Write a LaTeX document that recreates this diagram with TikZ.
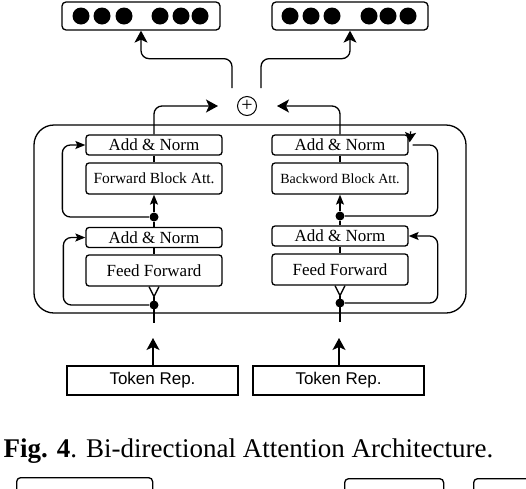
\documentclass[tikz,border=0pt]{standalone}
\usepackage{fontspec}
\setmainfont{Liberation Serif}
\newfontfamily\sansf{Liberation Sans}
\usetikzlibrary{arrows.meta,calc}
\begin{document}
\begin{tikzpicture}[x=1pt,y=-1pt, line width=1.3pt,
 blk/.style={draw, rounded corners=3pt, minimum width=136pt, inner sep=0pt, font=\fontsize{17}{17}\selectfont},
 an/.style={blk, minimum height=20pt},
 tall/.style={blk, minimum height=31pt},
 tok/.style={draw, minimum width=171pt, minimum height=29pt, inner sep=0pt, font=\sansf\fontsize{17}{17}\selectfont},
 big/.style={-{Stealth[length=12pt,width=13pt,inset=3pt]}},
 small/.style={-{Stealth[length=10pt,width=8pt,inset=2pt]}},
 dotn/.style={circle, fill, inner sep=0pt, minimum size=9pt},
 outb/.style={draw, rounded corners=4pt, minimum height=28pt, inner sep=0pt},
 bd/.style={circle, fill, inner sep=0pt, minimum size=17pt},
 part/.style={draw, rounded corners=4pt, minimum height=40pt, inner sep=0pt, anchor=north west},
]
\useasboundingbox (0,0) rectangle (526,488);

% output boxes
\node[outb, minimum width=158pt] (out1) at (141,16) {};
\node[outb, minimum width=156pt] (out2) at (350,16) {};
\foreach \x [count=\i] in {81,102,124,160,181,200} \node[bd] (l\i) at (\x,16) {};
\foreach \x [count=\i] in {290,311,332,369,388,408} \node[bd] (r\i) at (\x,16) {};

% plus
\node[circle, draw, minimum size=19pt, inner sep=0pt, line width=1pt, font=\fontsize{20}{20}\selectfont] (plus) at (247,106) {\raisebox{1pt}{+}};

% encoder container
\node[draw, rounded corners=20pt, minimum width=432pt, minimum height=188pt, inner sep=0pt] (enc) at (250,219) {};

% left column
\node[an] (an1) at (154,145) {Add \& Norm};
\node[tall] (fb) at (154,178.5) {\fontsize{15.5}{15.5}\selectfont Forward Block Att.};
\node[an] (an2) at (154,237.5) {Add \& Norm};
\node[tall] (ff1) at (154,270.5) {Feed Forward};
\node[dotn] (d1) at (154,217) {};
\node[dotn] (d2) at (154,305) {};

% right column
\node[an] (an3) at (340,145) {Add \& Norm};
\node[tall] (bb) at (340,178.5) {\fontsize{14}{14}\selectfont Backword Block Att.};
\node[an] (an4) at (340,236) {Add \& Norm};
\node[tall] (ff2) at (340,269.5) {Feed Forward};
\node[dotn] (d3) at (340,216) {};
\node[dotn] (d4) at (340,303) {};

% token reps
\node[tok] (t1) at (152.5,380.5) {Token Rep.};
\node[tok] (t2) at (338.5,380.5) {Token Rep.};

\coordinate (b1) at (154,323);
\coordinate (b2) at (340,322);
\coordinate (a1) at (153,338);
\coordinate (a2) at (339,338);
\coordinate (o1s) at (232,88);
\coordinate (o2s) at (261,88);

% column connectors
\draw (an1.south) -- (fb.north);
\draw[small] (d1) -- (fb.south);
\draw (d1) -- (an2.north);
\draw (an2.south) -- (ff1.north);
\draw ($(ff1.south)+(-5,0)$) -- ($(ff1.south)+(0,10)$) -- ($(ff1.south)+(5,0)$);
\draw ($(ff1.south)+(0,10)$) -- (d2.center) -- (b1);

\draw (an3.south) -- (bb.north);
\draw[small] (d3) -- (bb.south);
\draw (d3) -- (an4.north);
\draw (an4.south) -- (ff2.north);
\draw ($(ff2.south)+(-5,0)$) -- ($(ff2.south)+(0,10)$) -- ($(ff2.south)+(5,0)$);
\draw ($(ff2.south)+(0,10)$) -- (d4.center) -- (b2);

% residual loops
\draw[small, rounded corners=8pt] (d1) -| ($(an1.west)+(-23,0)$) -- (an1.west);
\draw[small, rounded corners=8pt] (d2) -| ($(an2.west)+(-22,0)$) -- (an2.west);
\draw[rounded corners=8pt] (d3) -| ($(an3.east)+(29,0)$) -- ($(an3.east)+(4,0)$);
\draw[-{Stealth[length=10pt,width=11pt,inset=2pt]}] ($(an3.north east)+(2,-3)$) -- ($(an3.north east)+(1,8)$);
\draw[small, rounded corners=8pt] (d4) -| ($(an4.east)+(29,0)$) -- (an4.east);

% to plus
\draw[big, rounded corners=8pt] (an1.north) |- ($(plus.west)+(-19,0)$);
\draw[big, rounded corners=8pt] (an3.north) |- ($(plus.east)+(20,0)$);

% to outputs
\draw[big, rounded corners=8pt] (o1s) |- ($(out1.south)+(0,28)$) -- (out1.south);
\draw[big, rounded corners=8pt] (o2s) |- ($(out2.south)+(0,28)$) -- (out2.south);

% token arrows
\draw[big] (t1.north -| a1) -- (a1);
\draw[big] (t2.north -| a2) -- (a2);

% caption
\node[anchor=base west, inner sep=0pt, font=\fontsize{27}{27}\selectfont] (cap) at (3,457) {\textbf{Fig. 4}. Bi-directional Attention Architecture.};

% partial boxes of next figure
\begin{scope}
\clip (0,0) rectangle (526,488);
\node[part, minimum width=136pt] (p1) at (16,477) {};
\node[part, minimum width=99pt] (p2) at (344,478) {};
\node[part, minimum width=90pt] (p3) at (473,478) {};
\end{scope}
\end{tikzpicture}
\end{document}
